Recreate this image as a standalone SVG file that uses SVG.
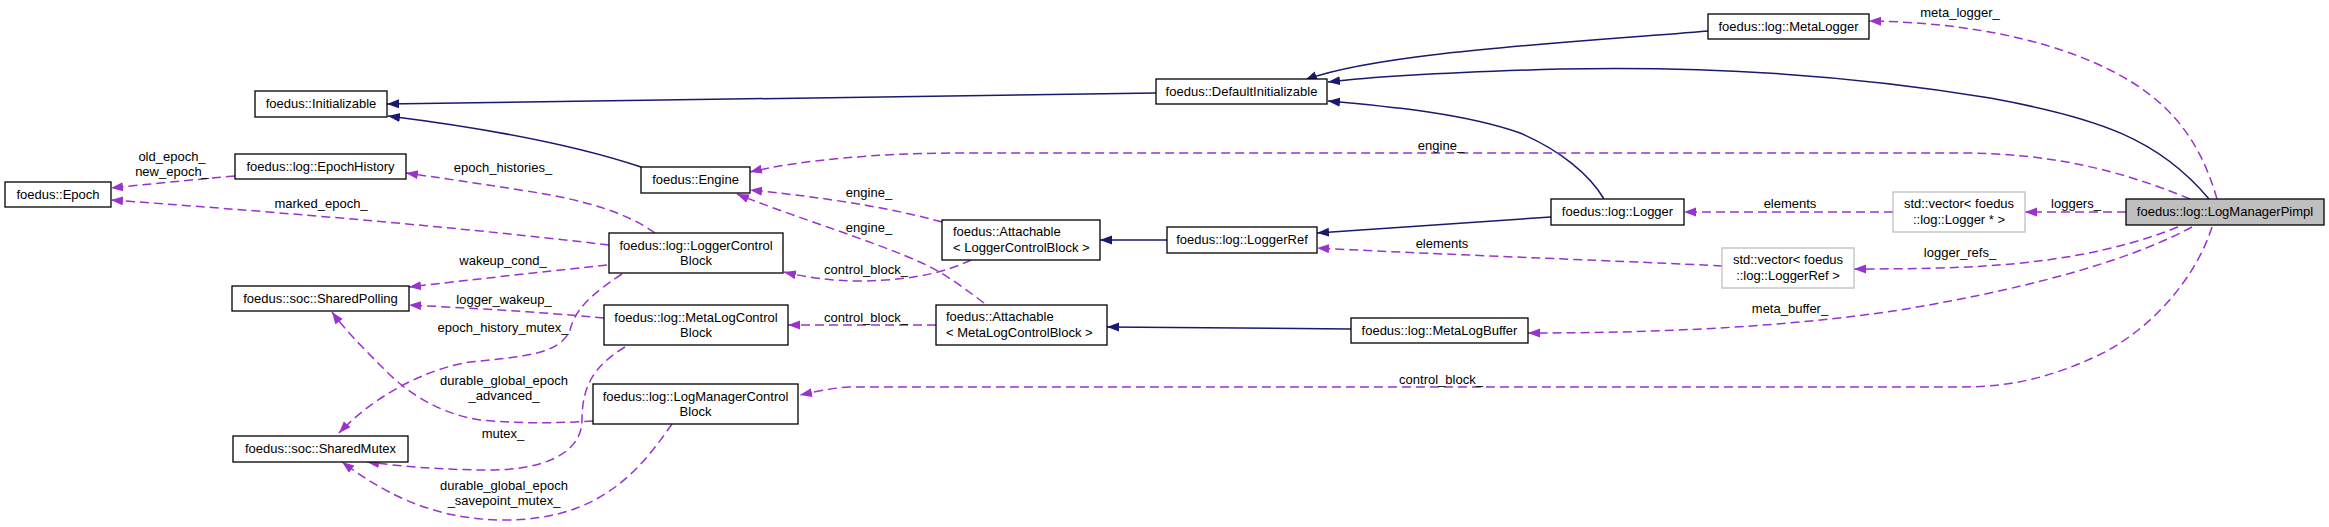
<svg xmlns="http://www.w3.org/2000/svg" width="2329" height="527" viewBox="0 0 2329 527">
<style>
text{font-family:"Liberation Sans",Arial,sans-serif;font-size:13px;fill:#000}
.n rect{fill:#fff;stroke:#000;stroke-width:1.3}
.g rect{fill:#fff;stroke:#bfbfbf;stroke-width:1.3}
.m rect{fill:#bfbfbf;stroke:#000;stroke-width:1.3}
.c{text-anchor:middle}
.inh{fill:none;stroke:#191970;stroke-width:1.5;marker-end:url(#an)}
.use{fill:none;stroke:#9a32cd;stroke-width:1.5;stroke-dasharray:9,5;marker-end:url(#ap)}
.lbl{text-anchor:middle}
</style>
<defs>
<marker id="an" markerUnits="userSpaceOnUse" markerWidth="13" markerHeight="10" refX="12" refY="4.5" orient="auto"><path d="M0,0 L12,4.5 L0,9 z" fill="#191970"/></marker>
<marker id="ap" markerUnits="userSpaceOnUse" markerWidth="13" markerHeight="10" refX="12" refY="4.5" orient="auto"><path d="M0,0 L12,4.5 L0,9 z" fill="#9a32cd"/></marker>
</defs>
<rect width="2329" height="527" fill="#fff"/>
<g id="edges">
<path class="inh" d="M1156,93 L387,104"/>
<path class="inh" d="M641,167 C560,140 460,125 388,116"/>
<path class="inh" d="M1708,31 C1580,42 1380,52 1305,80"/>
<path class="inh" d="M2209,199 C2160,140 2100,118 1990,98 C1850,75 1700,66 1560,69 C1460,72 1380,76 1328,82"/>
<path class="inh" d="M1604,199 C1590,175 1560,150 1520,133 C1460,112 1380,106 1328,101"/>
<path class="inh" d="M1167,240 L1100,240"/>
<path class="inh" d="M1551,217 L1317,233"/>
<path class="inh" d="M1351,329 L1107,327"/>
<path class="use" d="M235,176 C190,180 150,184 111,188"/>
<path class="use" d="M609,245 C440,225 250,210 111,200"/>
<path class="use" d="M655,233 C630,215 590,200 520,190 C470,182 440,178 406,173"/>
<path class="use" d="M607,265 C540,272 470,280 409,287"/>
<path class="use" d="M622,274 C590,295 575,310 570,330 C560,355 520,357 470,362 C420,370 370,400 339,433"/>
<path class="use" d="M604,318 C540,312 470,308 409,305"/>
<path class="use" d="M625,347 C595,365 582,385 582,420 C582,455 540,470 490,470 C440,470 400,466 367,462"/>
<path class="use" d="M593,421 C560,423 520,424 480,420 C430,412 400,385 385,370 C365,350 345,330 332,312"/>
<path class="use" d="M672,424 C640,470 600,520 505,520 C430,520 380,490 342,462"/>
<path class="use" d="M971,260 C950,270 920,280 862,281 C830,281 805,277 784,272"/>
<path class="use" d="M936,325 L788,325"/>
<path class="use" d="M942,222 C880,205 810,196 750,190"/>
<path class="use" d="M984,303 C960,285 940,270 915,260 C870,240 780,212 737,194"/>
<path class="use" d="M2190,199 C2120,170 2050,153 1960,153 L960,153 C880,153 800,160 750,172"/>
<path class="use" d="M1893,212 L1684,212"/>
<path class="use" d="M2126,212 L2025,212"/>
<path class="use" d="M1722,266 C1650,262 1450,255 1317,248"/>
<path class="use" d="M2178,227 C2120,250 2050,265 1940,268 C1900,269 1870,269 1854,269"/>
<path class="use" d="M2192,227 C2140,255 2050,285 1900,310 C1780,328 1650,333 1528,333"/>
<path class="use" d="M2212,227 C2195,280 2150,330 2099,355 C2050,378 2010,387 1960,387 L850,387 C830,388 815,392 800,395"/>
<path class="use" d="M2217,199 C2200,140 2170,100 2110,70 C2040,35 1950,22 1869,21"/>
<g class="lbl">
<text x="172" y="161">old_epoch_</text>
<text x="172" y="176">new_epoch_</text>
<text x="321" y="208">marked_epoch_</text>
<text x="503" y="172">epoch_histories_</text>
<text x="503" y="265">wakeup_cond_</text>
<text x="504" y="304">logger_wakeup_</text>
<text x="503" y="332">epoch_history_mutex_</text>
<text x="504" y="385">durable_global_epoch</text>
<text x="504" y="400">_advanced_</text>
<text x="503" y="438">mutex_</text>
<text x="504" y="490">durable_global_epoch</text>
<text x="504" y="505">_savepoint_mutex_</text>
<text x="869" y="197">engine_</text>
<text x="869" y="232">engine_</text>
<text x="866" y="274">control_block_</text>
<text x="866" y="322">control_block_</text>
<text x="1441" y="150">engine_</text>
<text x="1442" y="248">elements</text>
<text x="1441" y="384">control_block_</text>
<text x="1960" y="17">meta_logger_</text>
<text x="1790" y="208">elements</text>
<text x="2076" y="208">loggers_</text>
<text x="1960" y="257">logger_refs_</text>
<text x="1790" y="313">meta_buffer_</text>
</g>
</g>
<g id="n_pimpl" class="m"><rect x="2126" y="199" width="198" height="26"/><text class="c" x="2225" y="216">foedus::log::LogManagerPimpl</text></g>
<g id="n_defaultinit" class="n"><rect x="1156" y="79" width="171" height="25"/><text class="c" x="1241.5" y="96">foedus::DefaultInitializable</text></g>
<g id="n_init" class="n"><rect x="255" y="91" width="132" height="26"/><text class="c" x="321" y="108">foedus::Initializable</text></g>
<g id="n_metalogger" class="n"><rect x="1708" y="14" width="161" height="25"/><text class="c" x="1788.5" y="31">foedus::log::MetaLogger</text></g>
<g id="n_engine" class="n"><rect x="641" y="167" width="109" height="26"/><text class="c" x="695.5" y="184">foedus::Engine</text></g>
<g id="n_epochhistory" class="n"><rect x="235" y="154" width="171" height="25"/><text class="c" x="320.5" y="171">foedus::log::EpochHistory</text></g>
<g id="n_epoch" class="n"><rect x="5" y="182" width="106" height="25"/><text class="c" x="58" y="199">foedus::Epoch</text></g>
<g id="n_lcb" class="n"><rect x="609" y="233" width="174" height="40"/><text class="c" x="696" y="250">foedus::log::LoggerControl</text><text class="c" x="696" y="265">Block</text></g>
<g id="n_polling" class="n"><rect x="232" y="286" width="177" height="25"/><text class="c" x="320.5" y="303">foedus::soc::SharedPolling</text></g>
<g id="n_mlcb" class="n"><rect x="604" y="305" width="184" height="40"/><text class="c" x="696" y="322">foedus::log::MetaLogControl</text><text class="c" x="696" y="337">Block</text></g>
<g id="n_lmcb" class="n"><rect x="593" y="384" width="205" height="40"/><text class="c" x="695.5" y="401">foedus::log::LogManagerControl</text><text class="c" x="695.5" y="416">Block</text></g>
<g id="n_mutex" class="n"><rect x="233" y="436" width="175" height="26"/><text class="c" x="320.5" y="453">foedus::soc::SharedMutex</text></g>
<g id="n_att_lcb" class="n"><rect x="942" y="220" width="158" height="40"/><text x="953" y="236">foedus::Attachable</text><text x="953" y="252">&lt; LoggerControlBlock &gt;</text></g>
<g id="n_att_mlcb" class="n"><rect x="936" y="305" width="171" height="40"/><text x="946" y="321">foedus::Attachable</text><text x="946" y="337">&lt; MetaLogControlBlock &gt;</text></g>
<g id="n_loggerref" class="n"><rect x="1167" y="227" width="150" height="26"/><text class="c" x="1242" y="244">foedus::log::LoggerRef</text></g>
<g id="n_logger" class="n"><rect x="1551" y="199" width="133" height="26"/><text class="c" x="1617.5" y="216">foedus::log::Logger</text></g>
<g id="n_metalogbuffer" class="n"><rect x="1351" y="318" width="177" height="25"/><text class="c" x="1439.5" y="335">foedus::log::MetaLogBuffer</text></g>
<g id="n_vec_logger" class="g"><rect x="1893" y="192" width="132" height="40"/><text class="c" x="1959" y="208">std::vector&lt; foedus</text><text class="c" x="1959" y="224">::log::Logger * &gt;</text></g>
<g id="n_vec_loggerref" class="g"><rect x="1722" y="248" width="132" height="40"/><text class="c" x="1788" y="264">std::vector&lt; foedus</text><text class="c" x="1788" y="280">::log::LoggerRef &gt;</text></g>
</svg>
